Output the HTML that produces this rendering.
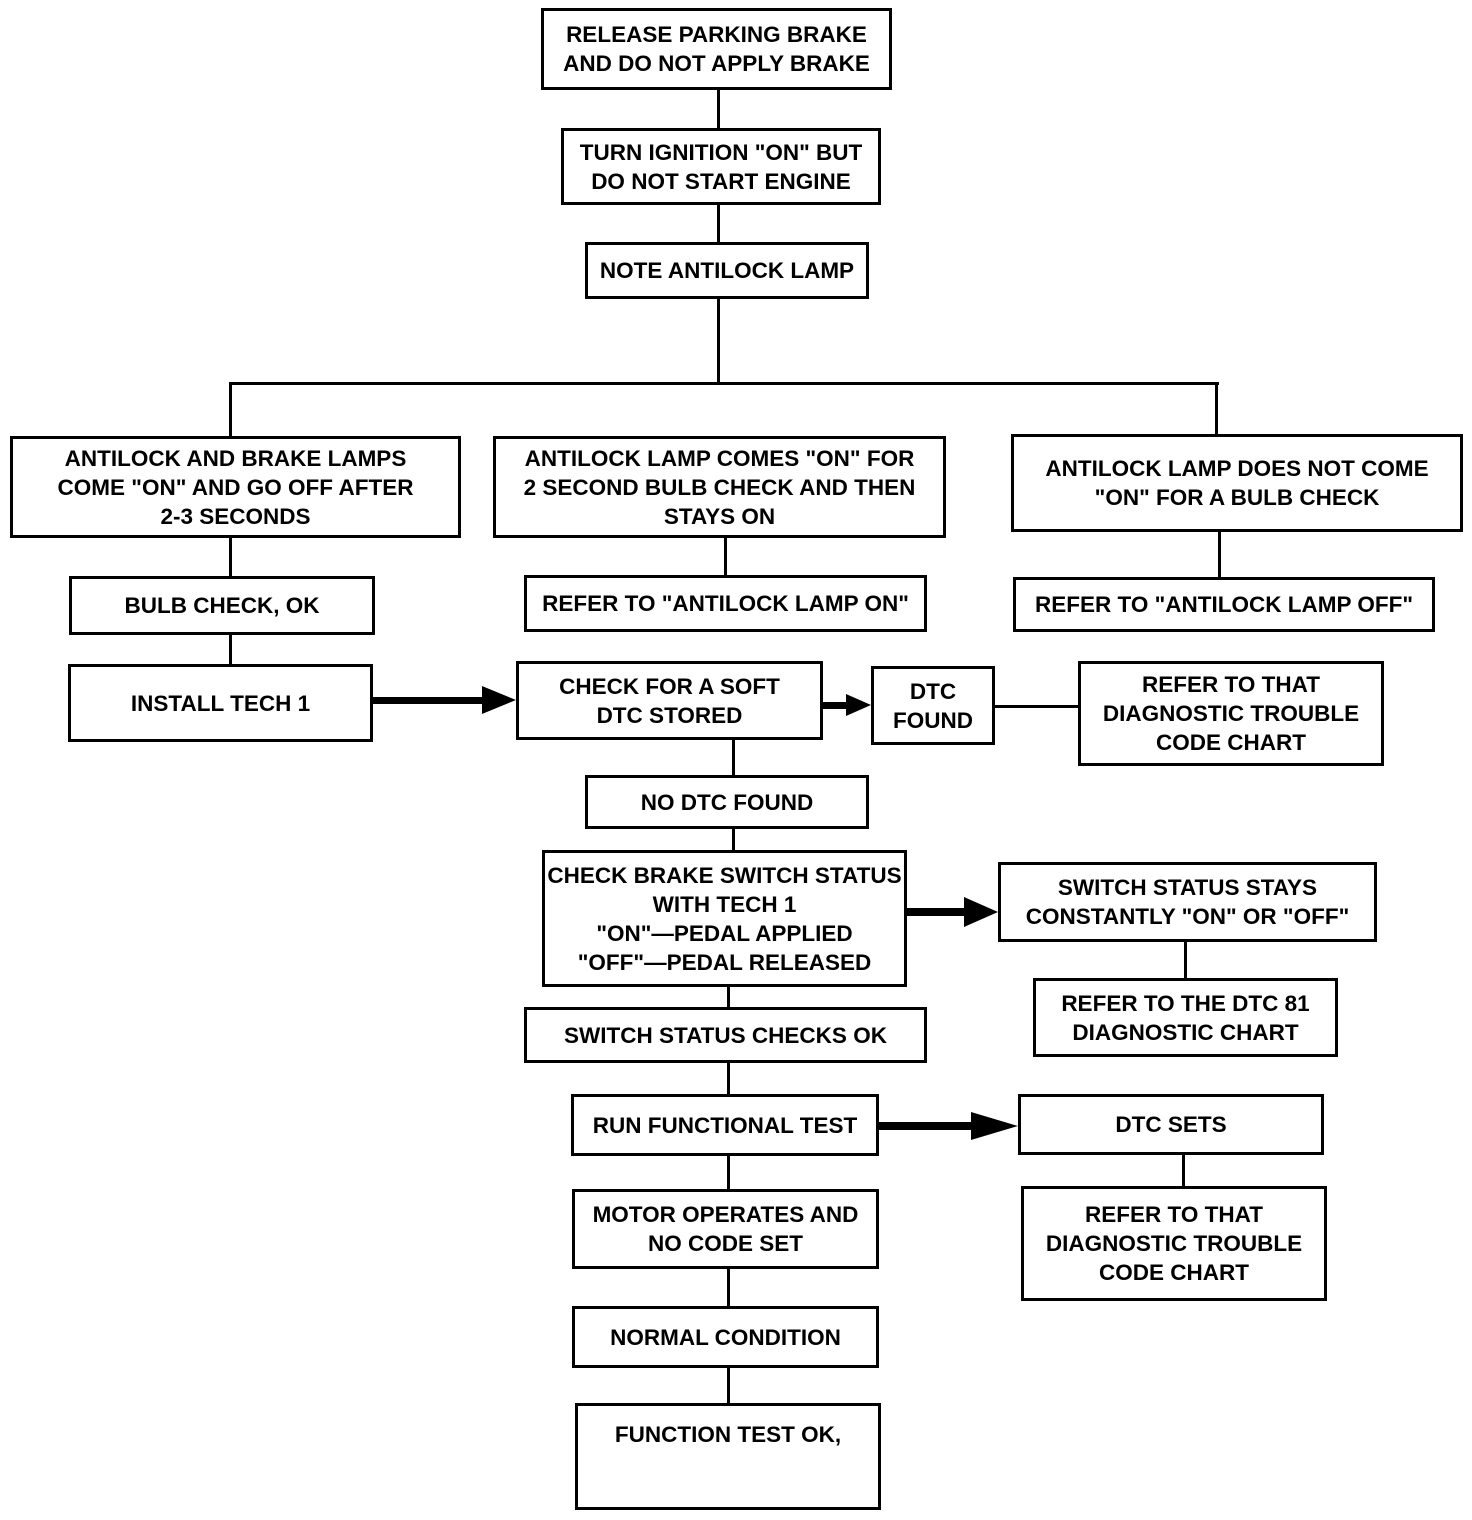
<!DOCTYPE html>
<html><head><meta charset="utf-8"><style>
html,body{margin:0;padding:0;background:#fff;}
body{width:1472px;height:1520px;position:relative;overflow:hidden;font-family:"Liberation Sans",Arial,sans-serif;}
.b{position:absolute;border:3px solid #000;box-sizing:border-box;display:flex;align-items:center;justify-content:center;text-align:center;font-weight:bold;font-size:22.5px;line-height:29px;color:#000;white-space:nowrap;}
.v{position:absolute;width:3px;background:#000;}
.h{position:absolute;height:3px;background:#000;}
svg{position:absolute;left:0;top:0;}
</style></head><body>
<div class="b" style="left:541px;top:8px;width:351px;height:82px;">RELEASE PARKING BRAKE<br>AND DO NOT APPLY BRAKE</div>
<div class="b" style="left:561px;top:128px;width:320px;height:77px;">TURN IGNITION "ON" BUT<br>DO NOT START ENGINE</div>
<div class="b" style="left:585px;top:242px;width:284px;height:57px;">NOTE ANTILOCK LAMP</div>
<div class="b" style="left:10px;top:436px;width:451px;height:102px;">ANTILOCK AND BRAKE LAMPS<br>COME "ON" AND GO OFF AFTER<br>2-3 SECONDS</div>
<div class="b" style="left:493px;top:436px;width:453px;height:102px;">ANTILOCK LAMP COMES "ON" FOR<br>2 SECOND BULB CHECK AND THEN<br>STAYS ON</div>
<div class="b" style="left:1011px;top:434px;width:452px;height:98px;">ANTILOCK LAMP DOES NOT COME<br>"ON" FOR A BULB CHECK</div>
<div class="b" style="left:69px;top:576px;width:306px;height:59px;">BULB CHECK, OK</div>
<div class="b" style="left:524px;top:575px;width:403px;height:57px;">REFER TO "ANTILOCK LAMP ON"</div>
<div class="b" style="left:1013px;top:577px;width:422px;height:55px;">REFER TO "ANTILOCK LAMP OFF"</div>
<div class="b" style="left:68px;top:664px;width:305px;height:78px;">INSTALL TECH 1</div>
<div class="b" style="left:516px;top:661px;width:307px;height:79px;">CHECK FOR A SOFT<br>DTC STORED</div>
<div class="b" style="left:871px;top:666px;width:124px;height:79px;">DTC<br>FOUND</div>
<div class="b" style="left:1078px;top:661px;width:306px;height:105px;">REFER TO THAT<br>DIAGNOSTIC TROUBLE<br>CODE CHART</div>
<div class="b" style="left:585px;top:775px;width:284px;height:54px;">NO DTC FOUND</div>
<div class="b" style="left:542px;top:850px;width:365px;height:137px;">CHECK BRAKE SWITCH STATUS<br>WITH TECH 1<br>"ON"—PEDAL APPLIED<br>"OFF"—PEDAL RELEASED</div>
<div class="b" style="left:998px;top:862px;width:379px;height:80px;">SWITCH STATUS STAYS<br>CONSTANTLY "ON" OR "OFF"</div>
<div class="b" style="left:1033px;top:978px;width:305px;height:79px;">REFER TO THE DTC 81<br>DIAGNOSTIC CHART</div>
<div class="b" style="left:524px;top:1007px;width:403px;height:56px;">SWITCH STATUS CHECKS OK</div>
<div class="b" style="left:571px;top:1094px;width:308px;height:62px;">RUN FUNCTIONAL TEST</div>
<div class="b" style="left:1018px;top:1094px;width:306px;height:61px;">DTC SETS</div>
<div class="b" style="left:1021px;top:1186px;width:306px;height:115px;">REFER TO THAT<br>DIAGNOSTIC TROUBLE<br>CODE CHART</div>
<div class="b" style="left:572px;top:1189px;width:307px;height:80px;">MOTOR OPERATES AND<br>NO CODE SET</div>
<div class="b" style="left:572px;top:1306px;width:307px;height:62px;">NORMAL CONDITION</div>
<div class="b" style="left:575px;top:1403px;width:306px;height:107px;align-items:flex-start;padding-top:14px;">FUNCTION TEST OK,</div>

<div class="v" style="left:717px;top:90px;height:38px;"></div>
<div class="v" style="left:717px;top:205px;height:37px;"></div>
<div class="v" style="left:717px;top:299px;height:86px;"></div>
<div class="h" style="left:229px;top:382px;width:990px;"></div>
<div class="v" style="left:229px;top:382px;height:54px;"></div>
<div class="v" style="left:1215px;top:382px;height:52px;"></div>
<div class="v" style="left:229px;top:538px;height:38px;"></div>
<div class="v" style="left:229px;top:635px;height:29px;"></div>
<div class="v" style="left:724px;top:538px;height:37px;"></div>
<div class="v" style="left:1218px;top:532px;height:45px;"></div>
<div class="v" style="left:732px;top:740px;height:35px;"></div>
<div class="v" style="left:732px;top:829px;height:21px;"></div>
<div class="v" style="left:727px;top:987px;height:20px;"></div>
<div class="v" style="left:727px;top:1063px;height:31px;"></div>
<div class="v" style="left:727px;top:1156px;height:33px;"></div>
<div class="v" style="left:727px;top:1269px;height:37px;"></div>
<div class="v" style="left:727px;top:1368px;height:35px;"></div>
<div class="v" style="left:1184px;top:942px;height:36px;"></div>
<div class="v" style="left:1182px;top:1155px;height:31px;"></div>
<div class="h" style="left:995px;top:705px;width:83px;"></div>

<svg width="1472" height="1520">
<rect x="373" y="697" width="112" height="7" fill="#000"/>
<polygon points="482,686 516,700 482,714" fill="#000"/>
<rect x="823" y="702" width="26" height="7" fill="#000"/>
<polygon points="846,694 871,705 846,716" fill="#000"/>
<rect x="907" y="908" width="60" height="8" fill="#000"/>
<polygon points="964,897 998,912 964,927" fill="#000"/>
<rect x="879" y="1122" width="95" height="8" fill="#000"/>
<polygon points="971,1112 1018,1126 971,1140" fill="#000"/>
</svg>
</body></html>
